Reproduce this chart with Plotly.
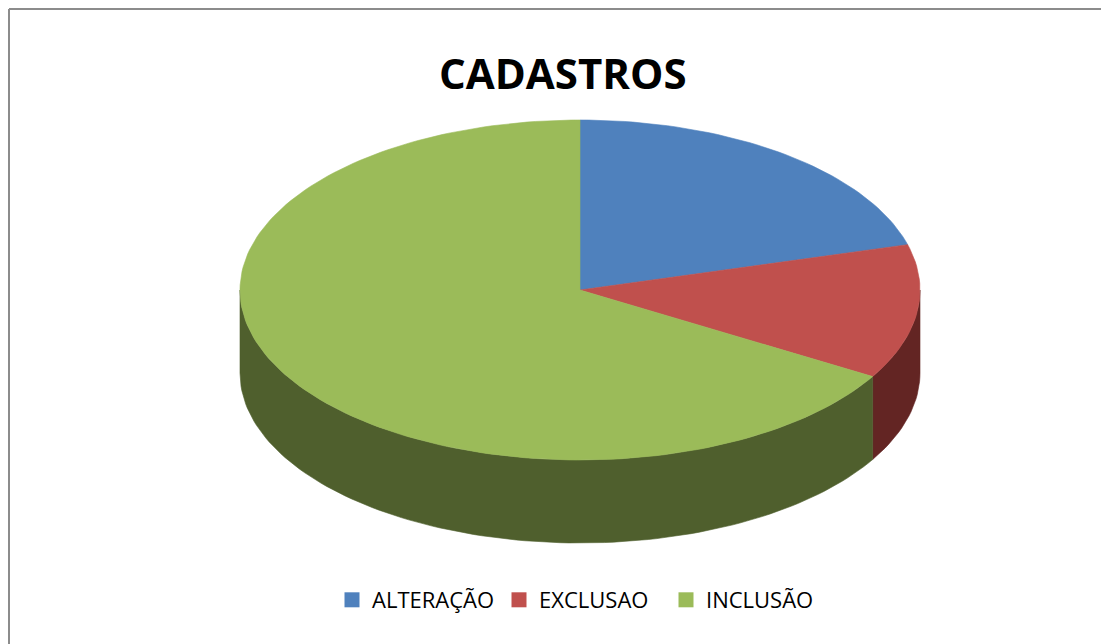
import numpy as np
import plotly.graph_objects as go

# ---- data ----
categories = ["ALTERAÇÃO", "EXCLUSAO", "INCLUSÃO"]
values = [20.7, 12.8, 66.5]
title_text = "CADASTROS"

# ---- style ----
top_colors = ["#4F81BD", "#C0504D", "#9BBB59"]
side_colors = ["#2E4C73", "#632523", "#4F5F2D"]
W, H = 1109, 644
OFF = 8  # page body margin
cx, cy, rx, ry, depth = 580.0, 290.0, 340.0, 170.0, 83.0


def arc(t0, t1, dz=0.0, n=240):
    t = np.linspace(t0, t1, max(int(n * (t1 - t0) / (2 * np.pi)) + 2, 3))
    return cx + rx * np.sin(t), cy - ry * np.cos(t) + dz


fig = go.Figure()

total = float(sum(values))
fracs = np.array(values) / total
ends = np.cumsum(fracs) * 2 * np.pi
starts = np.concatenate([[0.0], ends[:-1]])

# side walls (front half: angles between pi/2 and 3pi/2)
for s, e, col in zip(starts, ends, side_colors):
    a0, a1 = max(s, np.pi / 2), min(e, 3 * np.pi / 2)
    if a1 <= a0:
        continue
    xt, yt = arc(a0, a1)
    xb, yb = arc(a0, a1, depth)
    xs = np.concatenate([xt, xb[::-1], xt[:1]])
    ys = np.concatenate([yt, yb[::-1], yt[:1]])
    fig.add_trace(go.Scatter(x=xs, y=ys, mode="lines", fill="toself",
                             fillcolor=col, line=dict(color=col, width=0.6),
                             hoverinfo="skip", showlegend=False))

# top surfaces
for s, e, col, name in zip(starts, ends, top_colors, categories):
    xa, ya = arc(s, e)
    xs = np.concatenate([[cx], xa, [cx]])
    ys = np.concatenate([[cy], ya, [cy]])
    fig.add_trace(go.Scatter(x=xs, y=ys, mode="lines", fill="toself",
                             fillcolor=col, line=dict(color=col, width=0.6),
                             name=name, hoverinfo="skip", showlegend=False))

# legend entries
for col, name in zip(top_colors, categories):
    fig.add_trace(go.Scatter(x=[None], y=[None], mode="markers", name=name,
                             marker=dict(symbol="square", size=15, color=col)))

fig.add_annotation(x=563, y=72, xref="x", yref="y", text="<b>" + title_text + "</b>",
                   showarrow=False, font=dict(family="Open Sans", size=42, color="black"))

# chart-area border (left and top visible)
fig.add_shape(type="line", xref="x", yref="y", x0=9, y0=9, x1=9, y1=H,
              line=dict(color="#8C8C8C", width=2))
fig.add_shape(type="line", xref="x", yref="y", x0=9, y0=9, x1=W, y1=9,
              line=dict(color="#8C8C8C", width=2))

FW, FH = W - OFF, H - OFF
fig.update_layout(
    width=FW, height=FH, margin=dict(l=0, r=0, t=0, b=0),
    paper_bgcolor="white", plot_bgcolor="white",
    xaxis=dict(range=[OFF, W], visible=False, fixedrange=True),
    yaxis=dict(range=[H, OFF], visible=False, fixedrange=True),
    legend=dict(orientation="h", x=(332 - OFF) / FW, xanchor="left",
                y=1 - (600 - OFF) / FH, yanchor="middle",
                entrywidth=122, entrywidthmode="pixels",
                font=dict(family="Open Sans", size=22, color="black"),
                bgcolor="rgba(0,0,0,0)"),
    showlegend=True,
)

fig.write_html("out.html")
